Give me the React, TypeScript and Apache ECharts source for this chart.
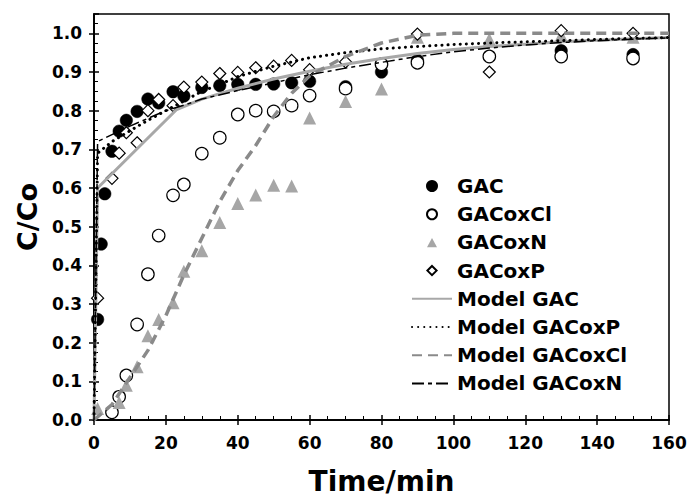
import React, { useEffect, useRef } from "react";
import * as echarts from "echarts";

// ---- Data ----
const gacT = [1, 2, 3, 5, 7, 9, 12, 15, 18, 22, 25, 30, 35, 40, 45, 50, 55, 60, 70, 80, 90, 130, 150];
const gacC = [0.26, 0.455, 0.585, 0.695, 0.747, 0.775, 0.798, 0.83, 0.82, 0.849, 0.838, 0.86, 0.865, 0.868, 0.868, 0.869, 0.872, 0.876, 0.862, 0.9, 0.93, 0.955, 0.945];

const clT = [5, 7, 9, 12, 15, 18, 22, 25, 30, 35, 40, 45, 50, 55, 60, 70, 80, 90, 110, 130, 150];
const clC = [0.02, 0.06, 0.115, 0.247, 0.377, 0.477, 0.581, 0.609, 0.689, 0.73, 0.79, 0.8, 0.798, 0.813, 0.839, 0.857, 0.92, 0.924, 0.94, 0.94, 0.935];

const nT = [1, 7, 9, 12, 15, 18, 22, 25, 30, 35, 40, 45, 50, 55, 60, 70, 80, 90, 110, 130, 150];
const nC = [0.03, 0.045, 0.09, 0.138, 0.218, 0.26, 0.303, 0.385, 0.438, 0.511, 0.56, 0.582, 0.607, 0.605, 0.781, 0.824, 0.856, 0.99, 0.985, 0.995, 0.99];

const pT = [1, 5, 7, 9, 12, 15, 18, 22, 25, 30, 35, 40, 45, 50, 55, 60, 70, 90, 110, 130, 150];
const pC = [0.315, 0.625, 0.69, 0.743, 0.717, 0.8, 0.829, 0.813, 0.861, 0.874, 0.896, 0.899, 0.911, 0.915, 0.93, 0.906, 0.926, 0.998, 0.9, 1.007, 1.0];

const mGacT = [0, 1, 23, 30, 40, 50, 60, 70, 80, 90, 100, 110, 120, 130, 140, 150, 160];
const mGacC = [0, 0.6, 0.803, 0.83, 0.858, 0.882, 0.902, 0.92, 0.935, 0.948, 0.958, 0.966, 0.972, 0.978, 0.982, 0.986, 0.989];

const mPT = [0, 1, 5, 10, 15, 20, 25, 30, 35, 40, 50, 60, 70, 80, 90, 100, 110, 120, 130, 140, 150, 160];
const mPC = [0, 0.69, 0.72, 0.748, 0.775, 0.8, 0.825, 0.85, 0.868, 0.888, 0.915, 0.937, 0.95, 0.96, 0.966, 0.971, 0.975, 0.978, 0.981, 0.984, 0.987, 0.989];

const mClT = [0, 5, 10, 15, 20, 25, 30, 35, 40, 45, 50, 55, 60, 70, 80, 90, 100, 120, 140, 160];
const mClC = [0, 0.04, 0.11, 0.18, 0.27, 0.375, 0.47, 0.565, 0.645, 0.71, 0.785, 0.845, 0.89, 0.94, 0.975, 0.995, 1.0, 1.0, 1.0, 1.0];

const mNT = [0, 1, 5, 10, 15, 20, 25, 30, 40, 50, 60, 70, 80, 90, 100, 110, 120, 130, 140, 150, 160];
const mNC = [0, 0.72, 0.738, 0.76, 0.78, 0.8, 0.814, 0.83, 0.852, 0.872, 0.893, 0.91, 0.925, 0.94, 0.952, 0.962, 0.97, 0.976, 0.981, 0.985, 0.988];

const xTicks = { min: 0, max: 160, interval: 20 };
const yTicks = { min: 0, max: 1.05, interval: 0.1 };

const zip = (t: number[], c: number[]) => t.map((v, i) => [v, c[i]]);

const FONT = "DejaVu Sans";

// legend icons padded to the 40x10 legend box so the marker stays centred
const TRI_ICON = "path://M0,0 M40,10 M15,9.8 L20,0.6 L25,9.8 Z";
const DIA_ICON = "path://M0,0 M40,10 M20,0.4 L24.6,5 L20,9.6 L15.4,5 Z";

export default function App() {
  const ref = useRef<HTMLDivElement>(null);
  useEffect(() => {
    if (!ref.current) return;
    const chart = echarts.init(ref.current, null, { renderer: "svg" });
    const axisLine = { show: true, onZero: false, lineStyle: { color: "#000", width: 1.5 } };
    const labelStyle = { fontFamily: FONT, fontWeight: "bold" as const, fontSize: 17, color: "#000" };
    const hideSym = { itemStyle: { opacity: 0 } };
    chart.setOption({
      animation: false,
      backgroundColor: "#fff",
      grid: {
        left: 94, right: 20, top: 14, bottom: 77,
        outerBoundsMode: "none", containLabel: false,
        show: true, borderColor: "#000", borderWidth: 1.5, backgroundColor: "transparent",
      },
      xAxis: [
        {
          type: "value", ...xTicks, position: "bottom",
          axisLine,
          axisTick: { show: true, inside: false, length: 5, lineStyle: { color: "#000", width: 1.5 } },
          minorTick: { show: false },
          axisLabel: { ...labelStyle, margin: 14 },
          splitLine: { show: false },
          name: "Time/min", nameLocation: "middle", nameGap: 47,
          nameTextStyle: { fontFamily: FONT, fontWeight: "bold", fontSize: 28, lineHeight: 28, color: "#000" },
        },
        {
          type: "value", ...xTicks, position: "bottom",
          axisLine,
          axisTick: { show: true, inside: true, length: 5, lineStyle: { color: "#000", width: 1.5 } },
          minorTick: { show: true, splitNumber: 4, length: 4, lineStyle: { color: "#000", width: 1 } },
          axisLabel: { show: false },
          splitLine: { show: false },
        },
      ],
      yAxis: [
        {
          type: "value", ...yTicks, position: "left",
          axisLine,
          axisTick: { show: true, inside: false, length: 5, lineStyle: { color: "#000", width: 1.5 } },
          minorTick: { show: false },
          axisLabel: { ...labelStyle, margin: 12, showMaxLabel: false, formatter: (v: number) => v.toFixed(1) },
          splitLine: { show: false },
          name: "C/Co", nameLocation: "middle", nameGap: 47, nameRotate: 90,
          nameTextStyle: { fontFamily: FONT, fontWeight: "bold", fontSize: 27, color: "#000" },
        },
        {
          type: "value", ...yTicks, position: "left",
          axisLine,
          axisTick: { show: true, inside: true, length: 5, lineStyle: { color: "#000", width: 1.5 } },
          minorTick: { show: true, splitNumber: 4, length: 4, lineStyle: { color: "#000", width: 1 } },
          axisLabel: { show: false },
          splitLine: { show: false },
        },
      ],
      legend: {
        orient: "vertical",
        left: 406,
        top: 171,
        itemWidth: 40,
        itemHeight: 10,
        itemGap: 8.2,
        symbolKeepAspect: true,
        textStyle: { fontFamily: FONT, fontWeight: "bold", fontSize: 20, color: "#000", lineHeight: 20 },
        data: [
          { name: "GAC", icon: "circle" },
          { name: "GACoxCl", icon: "circle" },
          { name: "GACoxN", icon: TRI_ICON },
          { name: "GACoxP", icon: DIA_ICON },
          { name: "Model GAC", ...hideSym },
          { name: "Model GACoxP", ...hideSym },
          { name: "Model GACoxCl", ...hideSym },
          { name: "Model GACoxN", ...hideSym },
        ],
      },
      series: [
        {
          name: "GAC", type: "scatter", symbol: "circle", symbolSize: 12.5,
          itemStyle: { color: "#000", borderColor: "#000", borderWidth: 0.5, opacity: 1 },
          data: zip(gacT, gacC),
        },
        {
          name: "GACoxCl", type: "scatter", symbol: "circle", symbolSize: 12.5,
          itemStyle: { color: "#fff", borderColor: "#000", borderWidth: 1.2, opacity: 1 },
          data: zip(clT, clC),
        },
        {
          name: "GACoxN", type: "scatter", symbol: "triangle", symbolSize: 13,
          itemStyle: { color: "#a6a6a6", opacity: 1 },
          data: zip(nT, nC),
        },
        {
          name: "GACoxP", type: "scatter", symbol: "diamond", symbolSize: 12,
          itemStyle: { color: "#fff", borderColor: "#000", borderWidth: 1.2, opacity: 1 },
          data: zip(pT, pC),
        },
        {
          name: "Model GAC", type: "line", symbol: "none", showSymbol: false,
          lineStyle: { color: "#a8a8a8", width: 3, type: "solid" },
          itemStyle: { color: "#a8a8a8" },
          data: zip(mGacT, mGacC),
        },
        {
          name: "Model GACoxP", type: "line", symbol: "none", showSymbol: false,
          lineStyle: { color: "#000", width: 3, type: [0.1, 6], cap: "round" },
          itemStyle: { color: "#000" },
          data: zip(mPT, mPC),
        },
        {
          name: "Model GACoxCl", type: "line", symbol: "none", showSymbol: false,
          lineStyle: { color: "#8a8a8a", width: 3.5, type: [10, 6] },
          itemStyle: { color: "#8a8a8a" },
          data: zip(mClT, mClC),
        },
        {
          name: "Model GACoxN", type: "line", symbol: "none", showSymbol: false,
          lineStyle: { color: "#000", width: 1.5, type: [12, 4, 4, 4] },
          itemStyle: { color: "#000" },
          data: zip(mNT, mNC),
        },
      ],
    });
    return () => chart.dispose();
  }, []);
  return <div ref={ref} style={{ width: 689, height: 497, position: "absolute", left: 0, top: 0 }} />;
}
